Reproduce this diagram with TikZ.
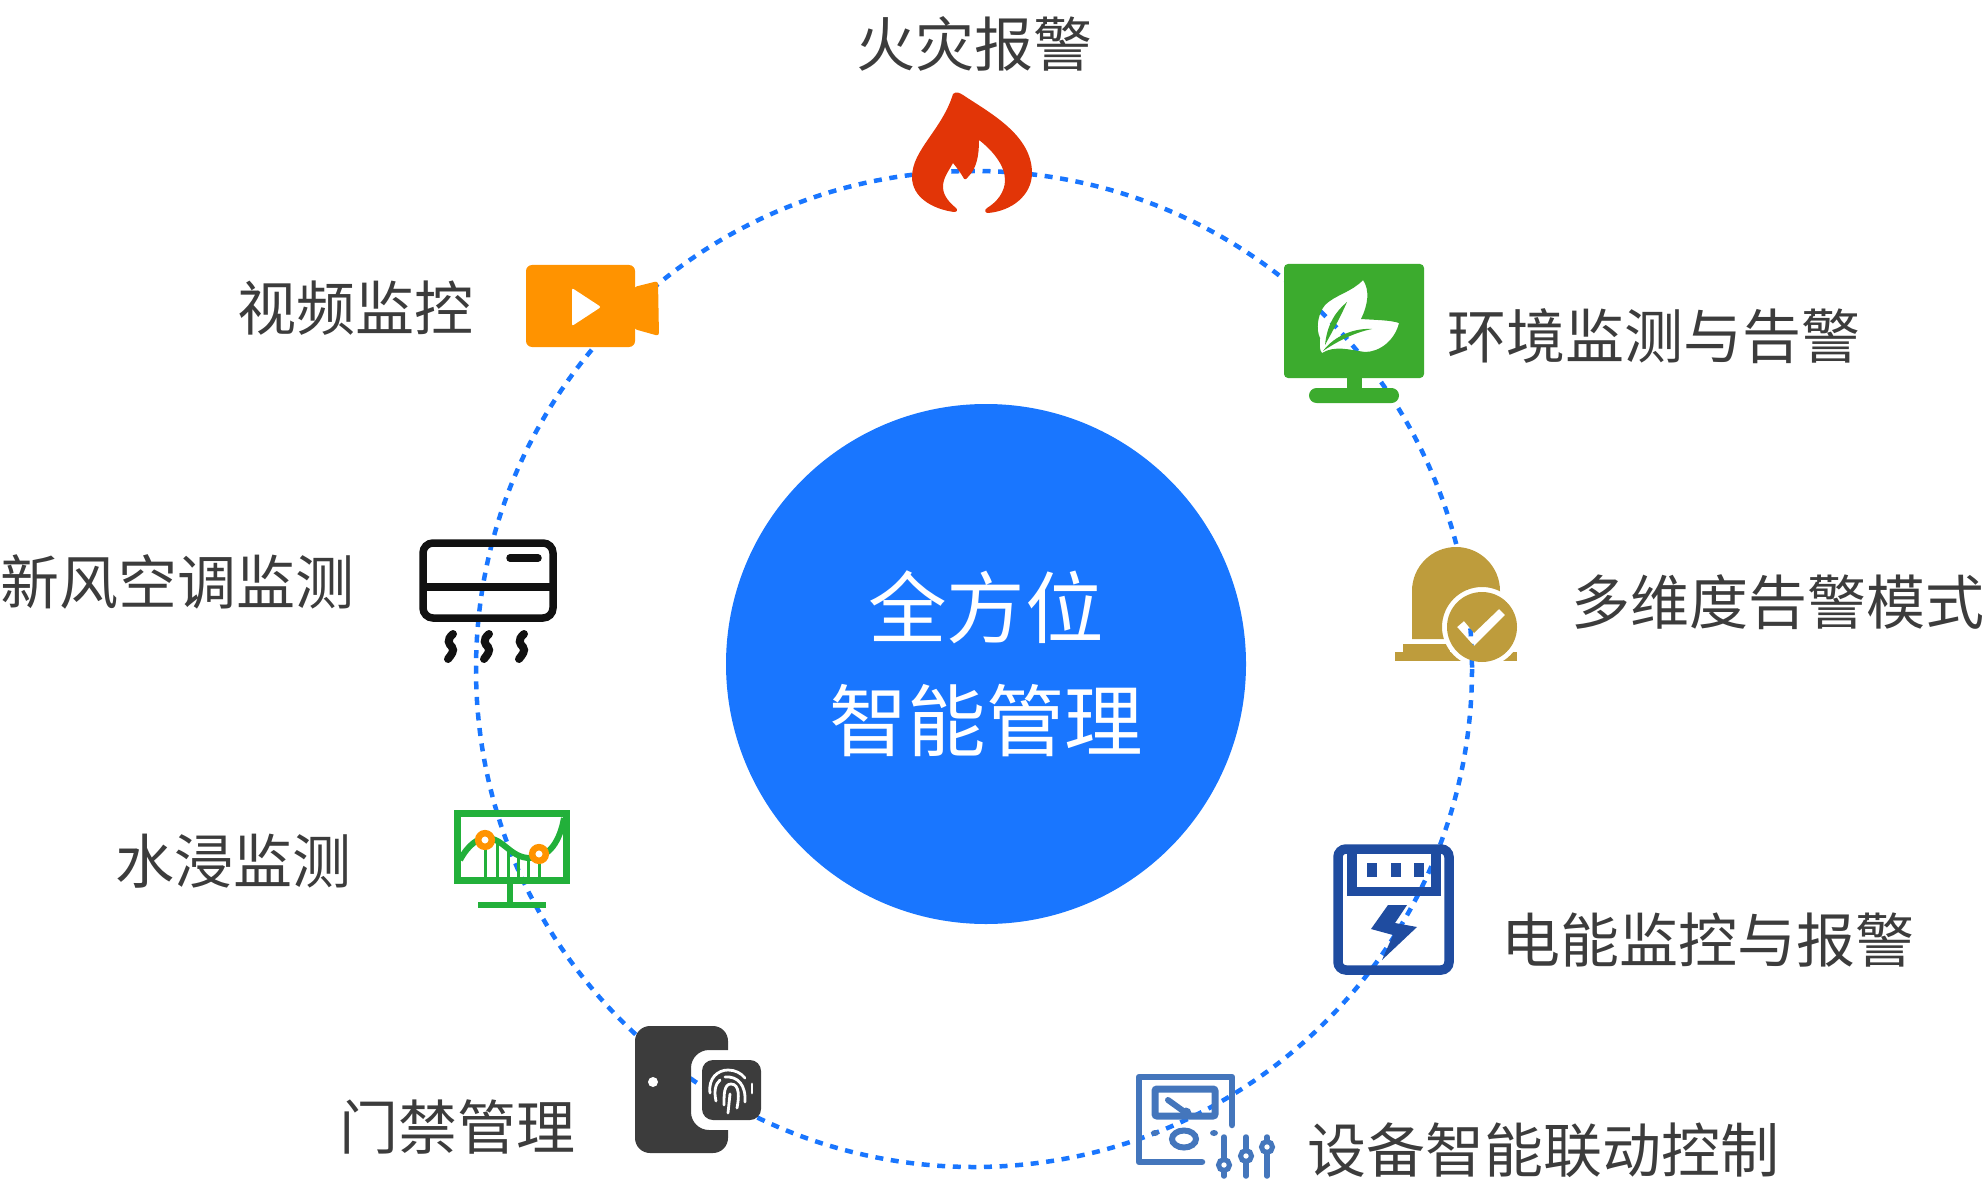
\documentclass[tikz,border=0pt]{standalone}
\usepackage{fontspec}
\setmainfont{Noto Sans CJK SC}
\definecolor{ringblue}{HTML}{1976FF}
\definecolor{fire}{HTML}{E23507}
\definecolor{camera}{HTML}{FF9300}
\definecolor{leaf}{HTML}{3CAB2E}
\definecolor{bell}{HTML}{BE9C3C}
\definecolor{aircon}{HTML}{111111}
\definecolor{water}{HTML}{22B03A}
\definecolor{meter}{HTML}{1F4CA0}
\definecolor{door}{HTML}{3C3C3C}
\definecolor{tool}{HTML}{4476BC}
\begin{document}
\begin{tikzpicture}[x=1pt,y=-1pt,
  lbl/.style={text=door,inner sep=0pt,font=\fontsize{59}{60}\selectfont},
  hubtext/.style={text=white,inner sep=0pt,align=center,font=\fontsize{78.5}{113}\selectfont},
  slider/.style={draw=tool,line width=5.5pt,line cap=round},
  knob/.style={draw=tool,fill=white,line width=5pt}]
\useasboundingbox (0,0) rectangle (1986,1190);

\node[circle,fill=ringblue,inner sep=0pt,minimum size=520pt] (hub) at (986,664) {};
\node[hubtext] (hubname) at (986,664) {全方位\\智能管理};

\draw[ringblue,line width=4.5pt,dash pattern=on 8pt off 7.6pt] (974,669) circle (498);

% fire
\fill[fire] (953,94) .. controls (956,91) and (960,93) .. (963,95) .. controls (990,113) and (1032,135) .. (1032,173)
  .. controls (1032,195) and (1012,211) .. (988,213) .. controls (985,213) and (984,210) .. (987,208)
  .. controls (997,202) and (1005,192) .. (1005,180) .. controls (1005,165) and (992,150) .. (979,140)
  .. controls (979,155) and (977,168) .. (968,177) .. controls (966,180) and (964,180) .. (963,177)
  .. controls (960,172) and (957,168) .. (953,163) .. controls (948,172) and (943,178) .. (943,187)
  .. controls (943,196) and (950,203) .. (956,208) .. controls (958,210) and (957,212) .. (954,212)
  .. controls (932,209) and (912,197) .. (912,177) .. controls (912,150) and (942,130) .. (953,94) -- cycle;

% camera
\fill[camera,rounded corners=6pt] (526,265) rectangle (635,347);
\fill[camera,rounded corners=3pt] (634,287) -- (658,281) -- (659,336) -- (634,329) -- cycle;
\fill[white,rounded corners=2pt] (572,288) -- (601,307) -- (572,326) -- cycle;

% monitor with leaves
\fill[leaf,even odd rule] (1288,264) -- (1420,264) arc (-90:0:4) -- (1424,374) arc (0:90:4) -- (1288,378) arc (90:180:4) -- (1284,268) arc (180:270:4) -- cycle
  (1363,280) .. controls (1370,290) and (1368,305) .. (1361,319) .. controls (1375,320) and (1390,320) .. (1399,323)
  .. controls (1395,340) and (1380,352) .. (1365,352) .. controls (1350,350) and (1335,345) .. (1322,353)
  .. controls (1319,350) and (1320,345) .. (1320,338) .. controls (1316,330) and (1317,315) .. (1325,305)
  .. controls (1335,295) and (1352,292) .. (1363,280) -- cycle
  (1347,302) .. controls (1335,312) and (1327,325) .. (1325,345) .. controls (1332,332) and (1340,318) .. (1347,302) -- cycle
  (1372,329) .. controls (1355,328) and (1335,335) .. (1323,351) .. controls (1335,343) and (1352,333) .. (1372,329) -- cycle;
\fill[leaf] (1347,377) rectangle (1362,389);
\fill[leaf,rounded corners=7.5pt] (1309,388) rectangle (1399,403);

% bell
\begin{scope}[even odd rule]
\clip (1390,540) rectangle (1525,665) (1482,627) circle (40);
\fill[bell] (1412,639) -- (1412,591) arc (180:360:44) -- (1500,639) -- cycle;
\fill[bell] (1403,644) rectangle (1450,652);
\fill[bell] (1395,652) rectangle (1517,661);
\end{scope}
\fill[bell,even odd rule] (1482,627) circle (35)
  (1457,627) -- (1464,621) -- (1474,633) -- (1499,609) -- (1505,615) -- (1474,646) -- cycle;

% air conditioner
\draw[aircon,line width=7.5pt,rounded corners=10pt] (423,543) rectangle (553,618);
\draw[aircon,line width=7.5pt] (423,587) -- (553,587);
\draw[aircon,line width=7.5pt,line cap=round] (510,558) -- (538,558);
\foreach \sx in {451,487,522}
  \draw[aircon,line width=8pt,line cap=round] (\sx+2,634) .. controls (\sx-5,640) and (\sx-2,644) .. (\sx+1,647) .. controls (\sx+4,651) and (\sx,655) .. (\sx-3,659);

% water
\draw[water,line width=7pt] (457.5,813.5) rectangle (566.5,880.5);
\draw[water,line width=6.5pt] (510,884) -- (510,905);
\draw[water,line width=6.5pt] (478,905) -- (546,905);
\foreach \bx/\by in {485/840,497/842,508/850,518/856,528/858,539/856}
  \draw[water,line width=3pt] (\bx,\by) -- (\bx,878);
\draw[water,line width=6pt] (460,860) .. controls (468,845) and (478,838) .. (486,838) .. controls (504,838) and (510,858) .. (530,858)
  .. controls (550,858) and (560,840) .. (564,818);
\draw[camera,fill=white,line width=6.5pt] (485,840) circle (6.8);
\draw[camera,fill=white,line width=6.5pt] (539,854) circle (6.8);

% meter
\draw[meter,line width=9.5pt,rounded corners=8pt] (1338,849) rectangle (1449,970);
\draw[meter,line width=9.5pt] (1352,849) -- (1352,891.5) -- (1436,891.5) -- (1436,849);
\foreach \mx in {1367,1391,1414}
  \fill[meter] (\mx,863) rectangle (\mx+9.5,877);
\fill[meter] (1388,905) -- (1407,905) -- (1395,923) -- (1417,927) -- (1382,960) -- (1393,935) -- (1371,929) -- cycle;

% door
\begin{scope}[even odd rule]
\clip (625,1015) rectangle (735,1160) (691,1068) arc (180:270:18) -- (735,1050) -- (735,1130) -- (709,1130) arc (90:180:18) -- cycle;
\fill[door,rounded corners=15pt] (635,1026) rectangle (728,1153);
\end{scope}
\fill[white] (653,1082) circle (5);
\fill[door,rounded corners=11pt] (702,1060) rectangle (761,1120);
\draw[white,line width=2.8pt,line cap=round] (710,1093) .. controls (708,1078) and (718,1070) .. (728,1070) .. controls (735,1070) and (741,1073) .. (745,1078);
\draw[white,line width=2.8pt,line cap=round] (752,1084) -- (752,1093);
\draw[white,line width=2.8pt,line cap=round] (716,1101) .. controls (714,1092) and (715,1084) .. (720,1080);
\draw[white,line width=2.8pt,line cap=round] (725,1077) .. controls (738,1076) and (746,1085) .. (745,1102);
\draw[white,line width=2.8pt,line cap=round] (724,1105) .. controls (724,1094) and (724,1084) .. (731,1084) .. controls (740,1084) and (739,1098) .. (737,1108);
\draw[white,line width=2.8pt,line cap=round] (730,1094) -- (728,1113);

% tool
\draw[tool,line width=6.5pt,line cap=round,line join=round] (1232,1125) -- (1232,1077) -- (1139,1077) -- (1139,1162) -- (1202,1162);
\draw[tool,line width=7pt,rounded corners=2pt] (1155,1089) rectangle (1215,1116);
\draw[tool,line width=6pt,line cap=round] (1168,1100) -- (1186,1113);
\fill[tool] (1186,1113) circle (5.5);
\fill[tool] (1155,1133) ellipse (4 and 3);
\fill[tool] (1214,1133) ellipse (4 and 3);
\draw[tool,line width=6pt] (1184,1139) ellipse (12 and 8.5);
\foreach \tx/\ty in {1224/1165,1246/1156,1267/1147}{
  \draw[slider] (\tx,1137) -- (\tx,1176);
  \draw[knob] (\tx,\ty) circle (5.5);
}

\node[lbl] (firelbl) at (974,44) {火灾报警};
\node[lbl] (videolbl) at (355,308) {视频监控};
\node[lbl] (envlbl) at (1654,336) {环境监测与告警};
\node[lbl] (alarmlbl) at (1778,602) {多维度告警模式};
\node[lbl] (airlbl) at (177,582) {新风空调监测};
\node[lbl] (waterlbl) at (233,861) {水浸监测};
\node[lbl] (powerlbl) at (1708,940) {电能监控与报警};
\node[lbl] (doorlbl) at (457,1127) {门禁管理};
\node[lbl] (linklbl) at (1543,1150) {设备智能联动控制};
\end{tikzpicture}
\end{document}
